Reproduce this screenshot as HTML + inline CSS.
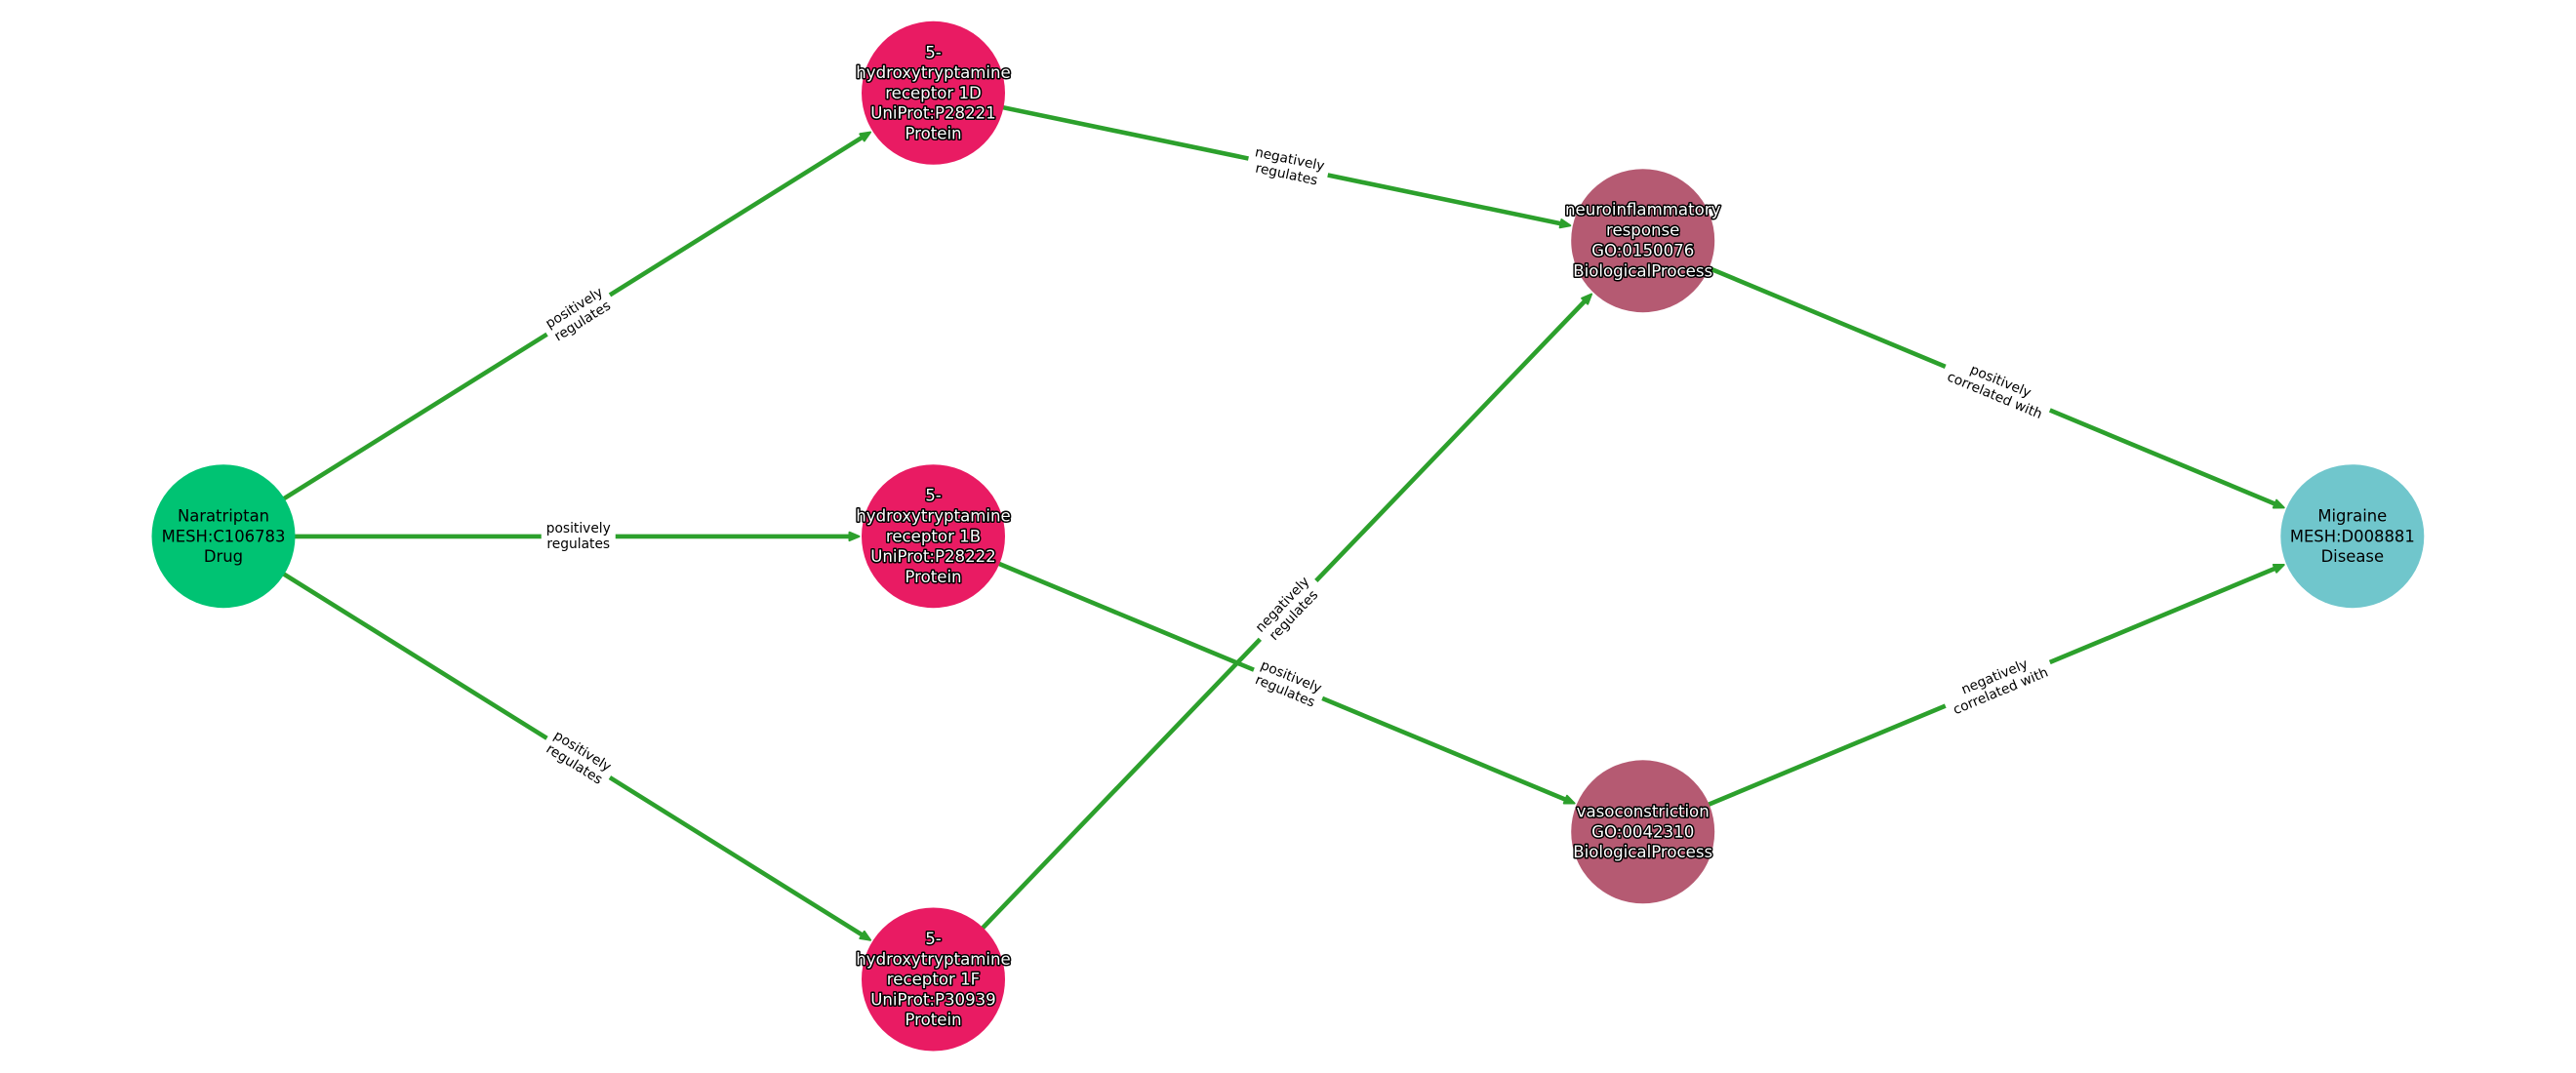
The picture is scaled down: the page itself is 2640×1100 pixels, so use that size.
<!DOCTYPE html>
<html>
<head>
<meta charset="utf-8">
<style>
html,body{margin:0;padding:0;background:#fff;width:2640px;height:1100px;overflow:hidden}
svg{display:block}
text{font-family:"DejaVu Sans",sans-serif;text-anchor:middle}
.n text{font-size:16.4px;fill:#000}
.h text{font-size:16.6px;fill:#fff;stroke:#000;stroke-width:3px;paint-order:stroke fill;stroke-linejoin:round}
.l text{font-size:13.8px;fill:#000}
.l rect{fill:#fff}
</style>
</head>
<body>
<svg width="2640" height="1100" viewBox="0 0 2640 1100" xmlns="http://www.w3.org/2000/svg">
<defs>
<marker id="a" markerUnits="userSpaceOnUse" markerWidth="16" markerHeight="16" refX="7" refY="8" orient="auto" viewBox="0 0 16 16">
<path d="M2,3.8 L12,8 L2,12.2 Z" fill="#2ca02c" stroke="#2ca02c" stroke-width="2" stroke-linejoin="round"/>
</marker>
</defs>
<g stroke="#2ca02c" stroke-width="4.6" fill="none">
<line x1="229" y1="549.9" x2="887.8" y2="138.2" marker-end="url(#a)"/>
<line x1="229" y1="549.9" x2="875.5" y2="549.9" marker-end="url(#a)"/>
<line x1="229" y1="549.9" x2="887.8" y2="961.1" marker-end="url(#a)"/>
<line x1="956.5" y1="95.3" x2="1604.4" y2="230.2" marker-end="url(#a)"/>
<line x1="956.5" y1="1004" x2="1627.6" y2="305.1" marker-end="url(#a)"/>
<line x1="956.5" y1="549.9" x2="1609" y2="821.6" marker-end="url(#a)"/>
<line x1="1683.7" y1="246.7" x2="2336.1" y2="518.5" marker-end="url(#a)"/>
<line x1="1683.7" y1="852.8" x2="2336.1" y2="580.9" marker-end="url(#a)"/>
</g>
<circle cx="229" cy="549.7" r="73.5" fill="#00c373"/>
<circle cx="956.5" cy="95.3" r="73.5" fill="#e91b63"/>
<circle cx="956.5" cy="549.7" r="73.5" fill="#e91b63"/>
<circle cx="956.5" cy="1004" r="73.5" fill="#e91b63"/>
<circle cx="1683.7" cy="246.7" r="73.5" fill="#b55a72"/>
<circle cx="1683.7" cy="852.8" r="73.5" fill="#b55a72"/>
<circle cx="2410.8" cy="549.7" r="73.5" fill="#70c6cc"/>
<g class="l">
<g transform="translate(592.75 322.5) rotate(-32)"><rect x="-38" y="-18" width="76" height="36"/><text y="-3.7">positively</text><text y="12.2">regulates</text></g>
<g transform="translate(592.75 549.7)"><rect x="-38" y="-18" width="76" height="36"/><text y="-3.7">positively</text><text y="12.2">regulates</text></g>
<g transform="translate(592.75 776.85) rotate(32)"><rect x="-38" y="-18" width="76" height="36"/><text y="-3.7">positively</text><text y="12.2">regulates</text></g>
<g transform="translate(1320.1 171) rotate(11.76)"><rect x="-41.5" y="-18" width="83" height="36"/><text y="-3.7">negatively</text><text y="12.2">regulates</text></g>
<g transform="translate(1320.1 625.35) rotate(-46.2)"><rect x="-41.5" y="-18" width="83" height="36"/><text y="-3.7">negatively</text><text y="12.2">regulates</text></g>
<g transform="translate(1320.1 701.25) rotate(22.6)"><rect x="-38" y="-18" width="76" height="36"/><text y="-3.7">positively</text><text y="12.2">regulates</text></g>
<g transform="translate(2047.25 398.2) rotate(22.6)"><rect x="-58" y="-18" width="116" height="36"/><text y="-3.7">positively</text><text y="12.2">correlated with</text></g>
<g transform="translate(2047.25 701.25) rotate(-22.6)"><rect x="-58" y="-18" width="116" height="36"/><text y="-3.7">negatively</text><text y="12.2">correlated with</text></g>
</g>
<g class="n">
<text x="229" y="534.4">Naratriptan</text><text x="229" y="555.3">MESH:C106783</text><text x="229" y="576.2">Drug</text>
<text x="2410.8" y="534.4">Migraine</text><text x="2410.8" y="555.3">MESH:D008881</text><text x="2410.8" y="576.2">Disease</text>
</g>
<g class="h">
<text x="956.5" y="59.3">5-</text><text x="956.5" y="80.2">hydroxytryptamine</text><text x="956.5" y="100.9">receptor 1D</text><text x="956.5" y="121.7">UniProt:P28221</text><text x="956.5" y="142.5">Protein</text>
<text x="956.5" y="513.7">5-</text><text x="956.5" y="534.6">hydroxytryptamine</text><text x="956.5" y="555.3">receptor 1B</text><text x="956.5" y="576.1">UniProt:P28222</text><text x="956.5" y="596.9">Protein</text>
<text x="956.5" y="968">5-</text><text x="956.5" y="988.9">hydroxytryptamine</text><text x="956.5" y="1009.6">receptor 1F</text><text x="956.5" y="1030.4">UniProt:P30939</text><text x="956.5" y="1051.2">Protein</text>
<text x="1683.7" y="220.7">neuroinflammatory</text><text x="1683.7" y="241.6">response</text><text x="1683.7" y="262.5">GO:0150076</text><text x="1683.7" y="283.3">BiologicalProcess</text>
<text x="1683.7" y="837.4">vasoconstriction</text><text x="1683.7" y="858.3">GO:0042310</text><text x="1683.7" y="879.1">BiologicalProcess</text>
</g>
</svg>
</body>
</html>
